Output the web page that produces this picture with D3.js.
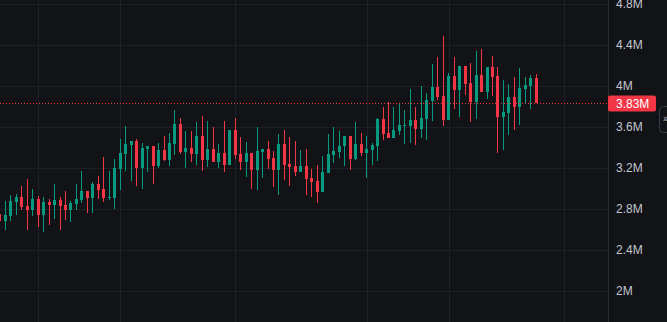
<!DOCTYPE html>
<html>
<head>
<meta charset="utf-8">
<script src="https://cdn.jsdelivr.net/npm/d3@7"></script>
<style>
  html, body { margin: 0; padding: 0; background: #121317; overflow: hidden; }
  svg { display: block; }
</style>
</head>
<body>
<svg id="chart" width="667" height="322"></svg>
<script>
// candle values in millions
var opens  = [2.75,2.68,2.73,2.87,2.92,2.83,2.79,2.90,2.74,2.87,2.84,2.89,2.84,2.79,2.85,2.89,2.98,2.91,3.04,3.00,
              2.91,2.91,3.19,3.34,3.42,3.46,3.20,3.39,3.41,3.22,3.38,3.28,3.43,3.63,3.36,3.40,3.34,3.51,3.28,3.39,
              3.26,3.35,3.23,3.57,3.34,3.26,3.35,3.18,3.36,3.39,3.30,3.18,3.43,3.24,3.22,3.16,3.22,3.10,3.07,2.97,
              3.15,3.33,3.36,3.41,3.51,3.29,3.43,3.35,3.38,3.41,3.68,3.54,3.49,3.56,3.61,3.61,3.67,3.58,3.68,3.85,
              3.99,3.90,3.67,4.10,3.96,4.20,4.03,3.84,4.11,3.94,4.19,4.10,3.70,3.74,3.89,3.80,3.97,4.00,4.08];
var highs  = [2.76,2.88,2.94,2.95,3.02,3.09,3.00,2.93,2.92,2.90,3.04,2.92,2.98,2.88,3.04,3.17,2.98,3.06,3.12,3.31,
              3.17,3.29,3.48,3.61,3.46,3.48,3.44,3.41,3.41,3.44,3.51,3.54,3.77,3.69,3.56,3.56,3.65,3.71,3.66,3.60,
              3.43,3.66,3.57,3.69,3.50,3.45,3.35,3.60,3.39,3.46,3.37,3.53,3.57,3.50,3.46,3.38,3.39,3.19,3.23,3.32,
              3.53,3.60,3.56,3.51,3.51,3.65,3.54,3.51,3.44,3.69,3.80,3.84,3.80,3.82,3.77,3.97,3.80,4.00,3.93,4.21,
              4.28,4.49,4.13,4.28,4.20,4.20,4.22,4.34,4.36,4.19,4.29,4.19,4.06,4.02,4.09,4.18,4.09,4.11,4.12];
var lows   = [2.66,2.60,2.68,2.74,2.79,2.60,2.73,2.62,2.58,2.64,2.70,2.60,2.69,2.67,2.79,2.86,2.76,2.76,2.90,2.87,
              2.89,2.80,2.99,3.17,3.07,3.02,3.00,3.16,3.04,3.20,3.27,3.22,3.33,3.34,3.20,3.26,3.23,3.17,3.21,3.26,
              3.20,3.16,3.23,3.29,3.18,3.11,3.00,2.99,3.10,3.19,3.01,2.94,3.08,3.02,3.12,3.16,2.94,2.92,2.86,2.97,
              3.15,3.25,3.30,3.22,3.18,3.28,3.32,3.10,3.23,3.27,3.47,3.49,3.49,3.52,3.43,3.44,3.42,3.49,3.47,3.66,
              3.86,3.61,3.67,3.78,3.70,3.91,3.65,3.68,3.94,3.87,3.90,3.35,3.38,3.52,3.57,3.62,3.83,3.78,3.83];
var closes = [2.68,2.74,2.88,2.92,2.82,2.79,2.90,2.74,2.87,2.84,2.89,2.83,2.79,2.86,2.90,2.98,2.91,3.04,2.99,2.91,
              2.92,3.20,3.35,3.43,3.46,3.20,3.40,3.41,3.22,3.38,3.28,3.44,3.63,3.36,3.40,3.34,3.51,3.28,3.39,3.26,
              3.35,3.23,3.57,3.33,3.26,3.35,3.18,3.37,3.39,3.29,3.18,3.43,3.23,3.21,3.16,3.22,3.09,3.06,2.97,3.16,
              3.34,3.37,3.41,3.51,3.29,3.43,3.35,3.39,3.42,3.68,3.53,3.49,3.57,3.62,3.62,3.67,3.58,3.69,3.86,3.99,
              3.89,3.67,4.10,3.96,4.20,4.02,3.84,4.11,3.94,4.19,4.09,3.70,3.75,3.89,3.80,3.98,4.01,4.08,3.83];

// price axis ticks (millions) and the candle positions of the time grid lines
var yTicks = [2, 2.4, 2.8, 3.2, 3.6, 4, 4.4, 4.8];
var timeTicks = [7, 22, 43, 67, 82, 103];

var width = 667, height = 322;
var plotRight = 608;

var upColor = "#089981", downColor = "#f23645";

var data = opens.map(function (o, i) {
    return { i: i, open: o, high: highs[i], low: lows[i], close: closes[i] };
});

var svg = d3.select("#chart");

var x = d3.scaleLinear()
    .domain([0, data.length - 1])
    .range([-0.2, 536.3]);

var y = d3.scaleLinear()
    .domain([2, 4.8])
    .range([291, 4]);

svg.append("rect")
    .attr("width", width).attr("height", height)
    .attr("fill", "#121317");

// grid
var grid = svg.append("g").attr("shape-rendering", "crispEdges").attr("stroke", "#1e2027");
grid.selectAll(".hg")
    .data(yTicks)
    .join("line")
    .attr("x1", 0).attr("x2", plotRight)
    .attr("y1", d => Math.round(y(d)) + 0.5)
    .attr("y2", d => Math.round(y(d)) + 0.5);
grid.selectAll(".vg")
    .data(timeTicks)
    .join("line")
    .attr("x1", d => Math.round(x(d)) + 0.5)
    .attr("x2", d => Math.round(x(d)) + 0.5)
    .attr("y1", 0).attr("y2", height);

// candles
var plot = svg.append("g");
svg.append("clipPath").attr("id", "clip")
    .append("rect").attr("width", plotRight).attr("height", height);
plot.attr("clip-path", "url(#clip)");

var candle = plot.selectAll("g")
    .data(data)
    .join("g")
    .attr("shape-rendering", "crispEdges");

// wick
candle.append("line")
    .attr("x1", d => Math.floor(x(d.i)) + 0.5)
    .attr("x2", d => Math.floor(x(d.i)) + 0.5)
    .attr("y1", d => y(d.high))
    .attr("y2", d => y(d.low))
    .attr("stroke", d => d.close >= d.open ? upColor : downColor);

// body
candle.append("rect")
    .attr("x", d => Math.floor(x(d.i)) - 1)
    .attr("width", 3)
    .attr("y", d => y(Math.max(d.open, d.close)))
    .attr("height", d => Math.max(1, Math.abs(y(d.open) - y(d.close))))
    .attr("fill", d => d.close >= d.open ? upColor : downColor);

// last price line
var last = data[data.length - 1].close;
svg.append("line")
    .attr("x1", 0).attr("x2", plotRight)
    .attr("y1", Math.round(y(last)) + 0.5)
    .attr("y2", Math.round(y(last)) + 0.5)
    .attr("stroke", downColor)
    .attr("stroke-dasharray", "1,2");

// price axis
svg.append("line")
    .attr("x1", plotRight + 0.5).attr("x2", plotRight + 0.5)
    .attr("y1", 0).attr("y2", height)
    .attr("stroke", "#2a2c33");

var yAxis = d3.axisRight(y)
    .tickValues(yTicks)
    .tickSize(0)
    .tickPadding(8)
    .tickFormat(d => d3.format("~g")(d) + "M");

var axisG = svg.append("g")
    .attr("transform", `translate(${plotRight},0)`)
    .call(yAxis);
axisG.select(".domain").remove();
axisG.selectAll("text")
    .attr("fill", "#c3c6ce")
    .attr("font-family", "'Liberation Sans', Arial, sans-serif")
    .attr("font-size", 12);

// last price label
var ly = y(last);
svg.append("rect")
    .attr("x", plotRight).attr("y", ly - 8)
    .attr("width", 48).attr("height", 16)
    .attr("rx", 2)
    .attr("fill", downColor);
svg.append("text")
    .attr("x", plotRight + 8).attr("y", ly)
    .attr("dy", "0.35em")
    .attr("fill", "#ffffff")
    .attr("font-family", "'Liberation Sans', Arial, sans-serif")
    .attr("font-size", 12)
    .text(d3.format("~g")(last) + "M");

// small collapse button at the right edge
svg.append("rect")
    .attr("x", 659.5).attr("y", 106.5)
    .attr("width", 14).attr("height", 26)
    .attr("rx", 4)
    .attr("fill", "#121317")
    .attr("stroke", "#3a3d45");
svg.append("text")
    .attr("x", 663).attr("y", 118)
    .attr("dy", "0.35em")
    .attr("fill", "#c3c6ce")
    .attr("font-family", "'Liberation Sans', Arial, sans-serif")
    .attr("font-size", 10)
    .text("»");
</script>
</body>
</html>
